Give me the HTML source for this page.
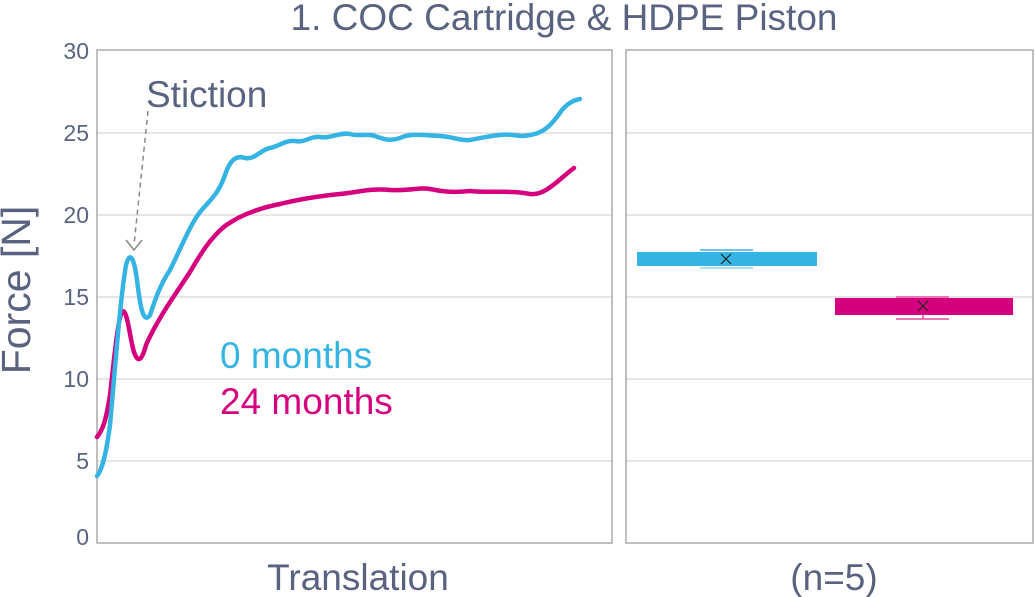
<!DOCTYPE html>
<html><head><style>body{margin:0;background:#fff}svg{display:block}</style></head><body>
<svg width="1035" height="597" xmlns="http://www.w3.org/2000/svg" font-family="Liberation Sans, sans-serif">
<text x="564" y="30" font-size="37" fill="#59637f" text-anchor="middle">1. COC Cartridge &amp; HDPE Piston</text>
<g stroke="#cccccc" stroke-width="1">
<line x1="97" y1="133" x2="612" y2="133"/><line x1="97" y1="215" x2="612" y2="215"/><line x1="97" y1="297" x2="612" y2="297"/><line x1="97" y1="379" x2="612" y2="379"/><line x1="97" y1="461" x2="612" y2="461"/>
<line x1="626" y1="133" x2="1033" y2="133"/><line x1="626" y1="215" x2="1033" y2="215"/><line x1="626" y1="297" x2="1033" y2="297"/><line x1="626" y1="379" x2="1033" y2="379"/><line x1="626" y1="461" x2="1033" y2="461"/>
</g>
<rect x="97" y="50" width="515" height="493" fill="none" stroke="#aaaaaa" stroke-width="1.5"/>
<rect x="626" y="50" width="407" height="493" fill="none" stroke="#aaaaaa" stroke-width="1.5"/>
<g font-size="23" fill="#59637f" text-anchor="end">
<text x="89" y="59">30</text><text x="89" y="141">25</text><text x="89" y="223">20</text><text x="89" y="305">15</text><text x="89" y="387">10</text><text x="89" y="469">5</text><text x="89" y="545">0</text></g>
<text transform="translate(30,290) rotate(-90)" font-size="41" fill="#59637f" text-anchor="middle">Force [N]</text>
<text x="358" y="590" font-size="37" fill="#59637f" text-anchor="middle">Translation</text>
<text x="834" y="590" font-size="37" fill="#59637f" text-anchor="middle">(n=5)</text>
<text x="146" y="107" font-size="37" fill="#59637f">Stiction</text>
<line x1="148" y1="111" x2="134" y2="245" stroke="#888" stroke-width="1.5" stroke-dasharray="5,4"/>
<path d="M126,240 L134,250 L142,240" fill="none" stroke="#888" stroke-width="1.5"/>
<text x="220" y="368" font-size="37" fill="#35b4e4">0 months</text>
<text x="220" y="414" font-size="37" fill="#d5007e">24 months</text>
<path d="M97,437 C103,430 106,420 110,395 C114,360 118,318 122,312 C127,306 130,340 134,352 C138,364 142,360 146,345 C158,318 175,295 190,272 C200,255 210,238 225,226 C240,215 260,208 280,204 C300,199 320,196 340,194 C360,192 370,188 390,190 C410,191 420,187 430,189 C440,191 450,193 470,191 C490,193 510,190 530,194 C545,196 558,180 574,168" fill="none" stroke="#d5007e" stroke-width="4.5" stroke-linecap="round"/>
<path d="M97,476 C102,470 106,455 110,425 C115,370 120,300 126,265 C130,250 134,258 137,280 C140,305 143,325 150,315 C155,300 160,285 170,270 C180,250 190,225 200,212 C210,200 218,195 225,175 C230,160 236,155 245,158 C255,160 260,150 270,148 C280,146 285,140 295,141 C305,143 310,136 320,137 C330,139 340,132 350,134 C360,137 365,133 375,136 C385,140 390,141 400,138 C410,133 420,135 440,136 C455,137 460,141 470,140 C480,138 490,136 500,135 C510,133 520,138 530,135 C545,133 553,123 562,110 C568,103 574,100 580,99" fill="none" stroke="#35b4e4" stroke-width="4.5" stroke-linecap="round"/>
<g stroke="#35b4e4" stroke-width="1.5"><line x1="700" y1="250" x2="753" y2="250"/><line x1="700" y1="268" x2="753" y2="268" stroke="#8fd2f0"/></g>
<rect x="637" y="252" width="180" height="14" fill="#35b4e4"/>
<g stroke="#e04c9e" stroke-width="1.5"><line x1="896" y1="297" x2="949" y2="297"/><line x1="896" y1="319" x2="949" y2="319"/><line x1="923" y1="315" x2="923" y2="319"/></g>
<rect x="835" y="298" width="178" height="17" fill="#d5007e"/>
<g stroke="#222" stroke-width="1.2"><path d="M721,254 L731,264 M731,254 L721,264"/><path d="M918,301 L928,311 M928,301 L918,311"/></g>
</svg>
</body></html>
